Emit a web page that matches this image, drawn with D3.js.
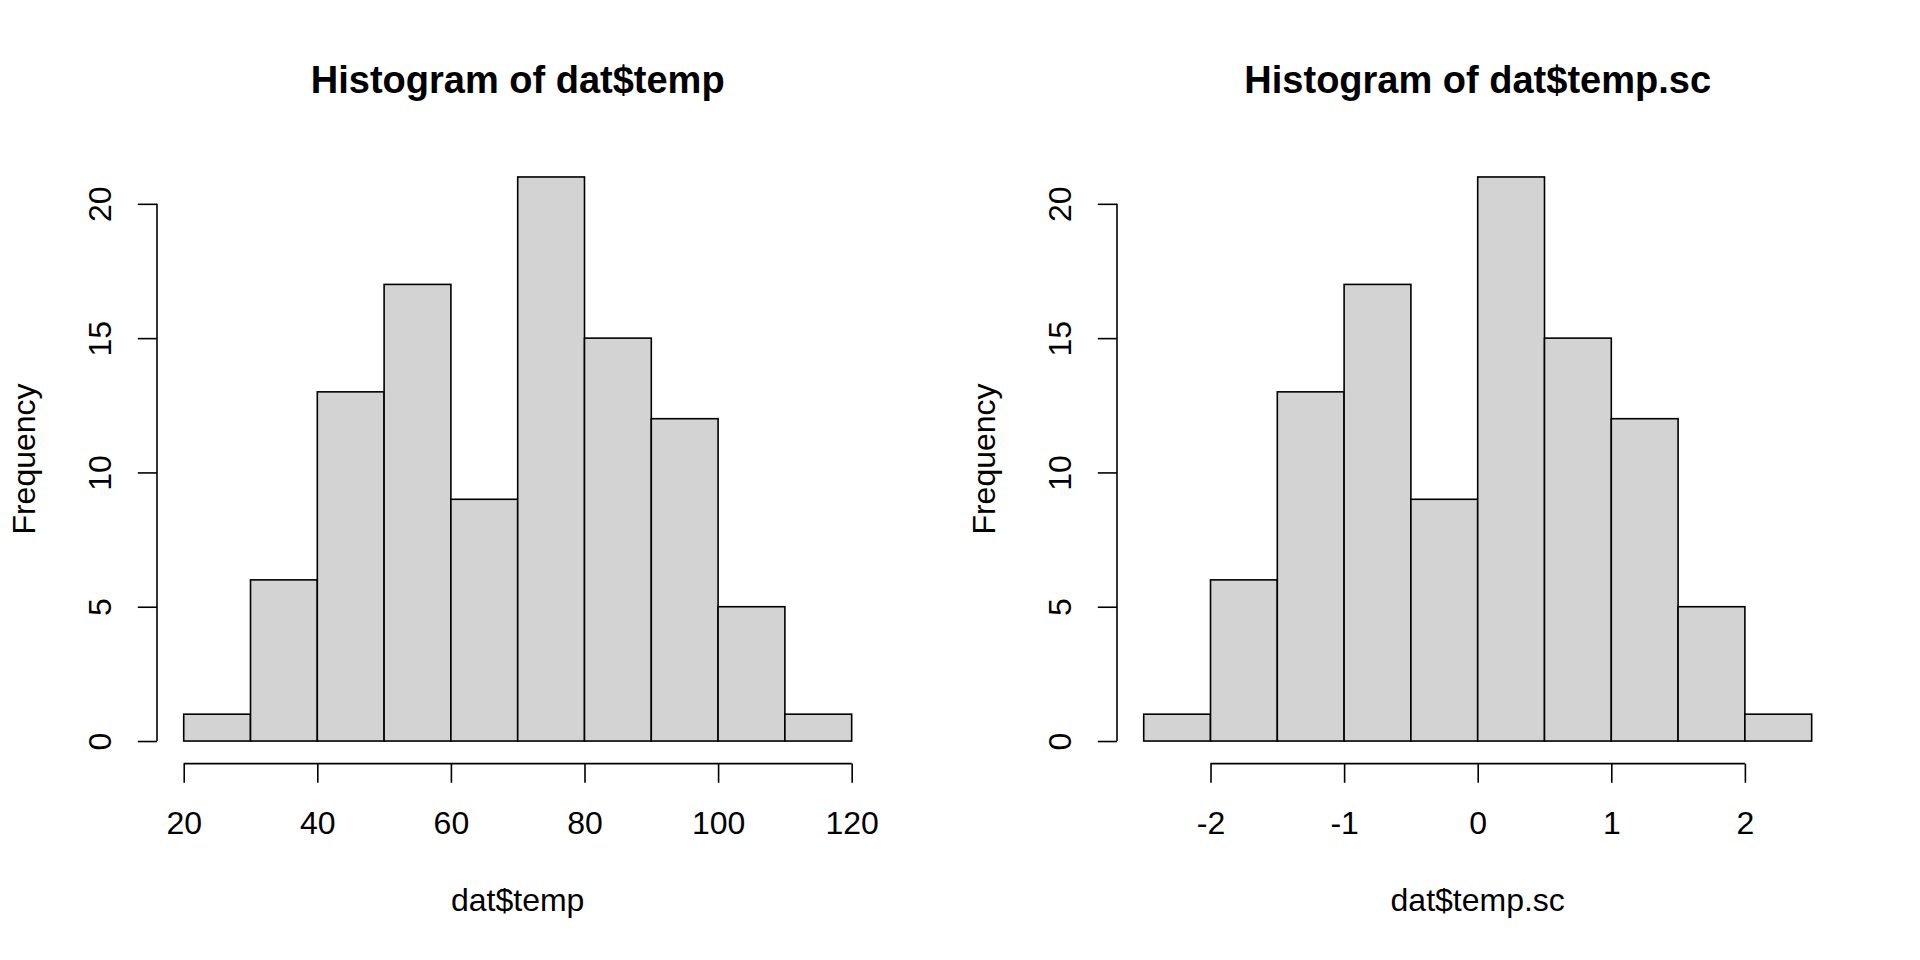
<!DOCTYPE html>
<html>
<head>
<meta charset="utf-8">
<script src="https://cdn.jsdelivr.net/npm/d3@7"></script>
<style>
  html, body { margin: 0; padding: 0; background: #fff; }
  svg text { font-family: "Liberation Sans", Arial, sans-serif; fill: #000; }
</style>
</head>
<body>
<script>
var w = 1920,
    h = 960;

// bin counts (same for both panels)
var counts = [1, 6, 13, 17, 9, 21, 15, 12, 5, 1];

// left panel: dat$temp, breaks 20..120 by 10
var breaksTemp = [20, 30, 40, 50, 60, 70, 80, 90, 100, 110, 120];
var ticksTemp = [20, 40, 60, 80, 100, 120];

// right panel: dat$temp.sc, breaks -2.5..2.5 by 0.5
var breaksSc = [-2.5, -2, -1.5, -1, -0.5, 0, 0.5, 1, 1.5, 2, 2.5];
var ticksSc = [-2, -1, 0, 1, 2];

var yTicks = [0, 5, 10, 15, 20];

var panels = [
  { title: "Histogram of dat$temp", xlab: "dat$temp", breaks: breaksTemp, ticks: ticksTemp, ox: 0 },
  { title: "Histogram of dat$temp.sc", xlab: "dat$temp.sc", breaks: breaksSc, ticks: ticksSc, ox: 960 }
];

var svg = d3.select("body").append("svg")
    .attr("width", w)
    .attr("height", h);

// plot region in panel coords
var pLeft = 157, pRight = 878.4, pTop = 154.4, pBottom = 763.6;
var lw = 1.6, tick = 19.2, fs = 32;

panels.forEach(function(p) {
  var g = svg.append("g").attr("transform", "translate(" + p.ox + ",0)");

  var lo = p.breaks[0], hi = p.breaks[p.breaks.length - 1],
      pad = (hi - lo) * 0.04;
  var x = d3.scaleLinear().domain([lo - pad, hi + pad]).range([pLeft, pRight]);
  var ymax = d3.max(counts);
  var y = d3.scaleLinear().domain([-ymax * 0.04, ymax * 1.04]).range([pBottom, pTop]);

  var bins = counts.map(function(c, i) {
    return { x0: p.breaks[i], x1: p.breaks[i + 1], n: c };
  });

  g.selectAll("rect.bar")
      .data(bins)
    .enter().append("rect")
      .attr("class", "bar")
      .attr("x", function(d) { return x(d.x0); })
      .attr("y", function(d) { return y(d.n); })
      .attr("width", function(d) { return x(d.x1) - x(d.x0); })
      .attr("height", function(d) { return y(0) - y(d.n); })
      .attr("fill", "#d3d3d3")
      .attr("stroke", "#000")
      .attr("stroke-width", lw);

  // x axis
  var xa = g.append("g")
      .attr("transform", "translate(0," + pBottom + ")")
      .call(d3.axisBottom(x).tickValues(p.ticks).tickSize(tick).tickSizeOuter(0)
        .tickFormat(function(d) { return d < 0 ? "-" + Math.abs(d) : d; }));
  xa.select(".domain").remove();
  xa.append("line")
      .attr("x1", x(p.ticks[0])).attr("x2", x(p.ticks[p.ticks.length - 1]))
      .attr("stroke", "#000").attr("stroke-width", lw);
  xa.selectAll(".tick line").attr("stroke-width", lw);
  xa.selectAll(".tick text")
      .attr("y", 70.6).attr("dy", 0)
      .style("font-size", fs + "px")
      .attr("fill", "#000");

  // y axis
  var ya = g.append("g")
      .attr("transform", "translate(" + pLeft + ",0)")
      .call(d3.axisLeft(y).tickValues(yTicks).tickSize(tick).tickSizeOuter(0));
  ya.select(".domain").remove();
  ya.append("line")
      .attr("y1", y(yTicks[0])).attr("y2", y(yTicks[yTicks.length - 1]))
      .attr("stroke", "#000").attr("stroke-width", lw);
  ya.selectAll(".tick line").attr("stroke-width", lw);
  ya.selectAll(".tick text")
      .attr("x", null).attr("dy", 0)
      .attr("text-anchor", "middle")
      .attr("transform", "translate(-46,0) rotate(-90)")
      .style("font-size", fs + "px")
      .attr("fill", "#000");

  ya.attr("font-family", null);
  xa.attr("font-family", null);

  // labels
  g.append("text")
      .attr("x", (pLeft + pRight) / 2)
      .attr("y", 92.7)
      .attr("text-anchor", "middle")
      .style("font-size", "38px")
      .style("font-weight", "bold")
      .text(p.title);

  g.append("text")
      .attr("x", (pLeft + pRight) / 2)
      .attr("y", 911)
      .attr("text-anchor", "middle")
      .style("font-size", fs + "px")
      .text(p.xlab);

  g.append("text")
      .attr("transform", "translate(34.5," + (pTop + pBottom) / 2 + ") rotate(-90)")
      .attr("text-anchor", "middle")
      .style("font-size", fs + "px")
      .text("Frequency");
});
</script>
</body>
</html>
